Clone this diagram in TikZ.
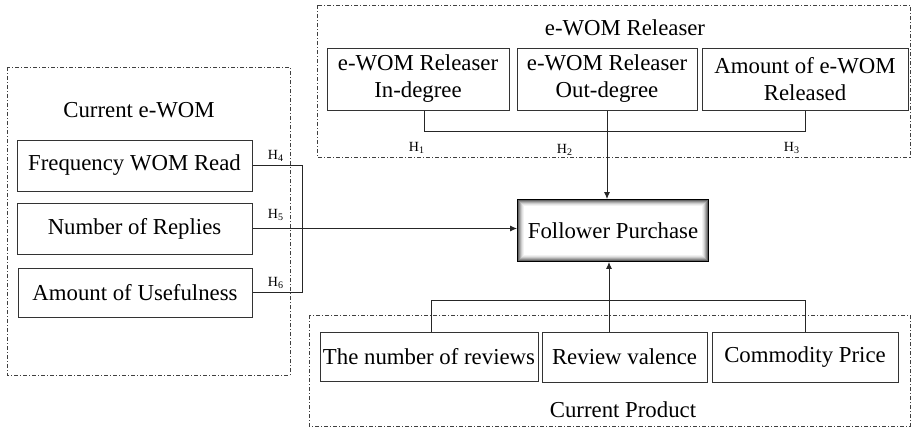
\documentclass[tikz,border=0pt]{standalone}
\usepackage{fontspec}
\setmainfont{Liberation Serif}
\usetikzlibrary{calc, arrows.meta}

\begin{document}
\begin{tikzpicture}[x=0.5pt,y=-0.5pt,
    every node/.style={font=\fontsize{11.4}{13.5}\selectfont},
    item/.style={draw=black!80, line width=0.5pt, inner sep=0pt, fill=white, align=center},
    frame/.style={draw=black!75, line width=0.45pt, dash pattern=on 2pt off 1pt on 0.5pt off 1pt},
    hlabel/.style={font=\fontsize{7}{8}\selectfont, inner sep=0pt},
    link/.style={draw=black!85, line width=0.5pt},
    tip/.style={-{Latex[length=3.5pt,width=3pt]}}]
    \useasboundingbox (0,0) rectangle (912,429);
    %点線の枠と見出し
    \draw[frame] (7,67) rectangle (290,375);
    \draw[frame] (317,5) rectangle (910,157);
    \draw[frame] (309,315) rectangle (910,426);
    \node (tcur) at (139,110) {Current e-WOM};
    \node (trel) at (625,28) {e-WOM Releaser};
    \node (tprod) at (623,410) {Current Product};
    %左側の項目
    \node[item, minimum width=117.5pt, minimum height=25.5pt] (fr) at (134.5,165.5) {Frequency WOM Read};
    \node[item, minimum width=117.5pt, minimum height=25.5pt] (nr) at (134.5,228.5) {Number of Replies};
    \node[item, minimum width=117pt, minimum height=24.5pt] (au) at (135,292.5) {Amount of Usefulness};
    %上側の項目
    \node[item, minimum width=91pt, minimum height=31pt] (ri) at (418,79) {e-WOM Releaser\\In-degree};
    \node[item, minimum width=90pt, minimum height=31pt] (ro) at (607,79) {e-WOM Releaser\\Out-degree};
    \node[item, minimum width=103pt, minimum height=31pt] (ra) at (805,79) {Amount of e-WOM\\Released};
    %下側の項目
    \node[item, minimum width=109pt, minimum height=24.5pt] (bn) at (429,356.5) {The number of reviews};
    \node[item, minimum width=82.5pt, minimum height=25pt] (bv) at (624.5,357) {Review valence};
    \node[item, minimum width=93pt, minimum height=25pt] (bp) at (805,357) {Commodity Price};
    %中央の箱(内側のぼかし)
    \node[item, draw=black, line width=0.9pt, minimum width=95pt, minimum height=30.5pt] (fp) at (613,230.5) {Follower Purchase};
    \foreach \k/\c in {1/60,2/45,3/32,4/20,5/11,6/5}
      \draw[black!\c, line width=0.55pt] ([shift={(\k*0.5pt,-\k*0.5pt)}]fp.north west) rectangle ([shift={(-\k*0.5pt,\k*0.5pt)}]fp.south east);
    %左からの線
    \coordinate (bk) at (302,0);
    \draw[link] (fr.east) -- (fr.east -| bk) -- (au.east -| bk) -- (au.east);
    \draw[link, tip] (nr.east) -- (nr.east -| fp.west);
    %上からの線
    \coordinate (tb) at (0,131);
    \coordinate (ti) at ([xshift=3pt]ri.south);
    \draw[link] (ti) -- (ti |- tb) -- (ra.south |- tb) -- (ra.south);
    \draw[link, tip] (ro.south) -- (ro.south |- fp.north);
    %下からの線
    \coordinate (bb) at (0,300);
    \coordinate (bi) at ([xshift=1pt]bn.north);
    \coordinate (fa) at ([xshift=-2pt]fp.south);
    \draw[link] (bi) -- (bi |- bb) -- (bp.north |- bb) -- (bp.north);
    \draw[link, tip] (fa |- bv.north) -- (fa);
    %仮説の記号
    \node[hlabel] (h1) at (417,148) {H\textsubscript{1}};
    \node[hlabel] (h2) at (565,150) {H\textsubscript{2}};
    \node[hlabel] (h3) at (792,148) {H\textsubscript{3}};
    \node[hlabel] (h4) at (276,156) {H\textsubscript{4}};
    \node[hlabel] (h5) at (276,215) {H\textsubscript{5}};
    \node[hlabel] (h6) at (276,283) {H\textsubscript{6}};
\end{tikzpicture}
\end{document}
